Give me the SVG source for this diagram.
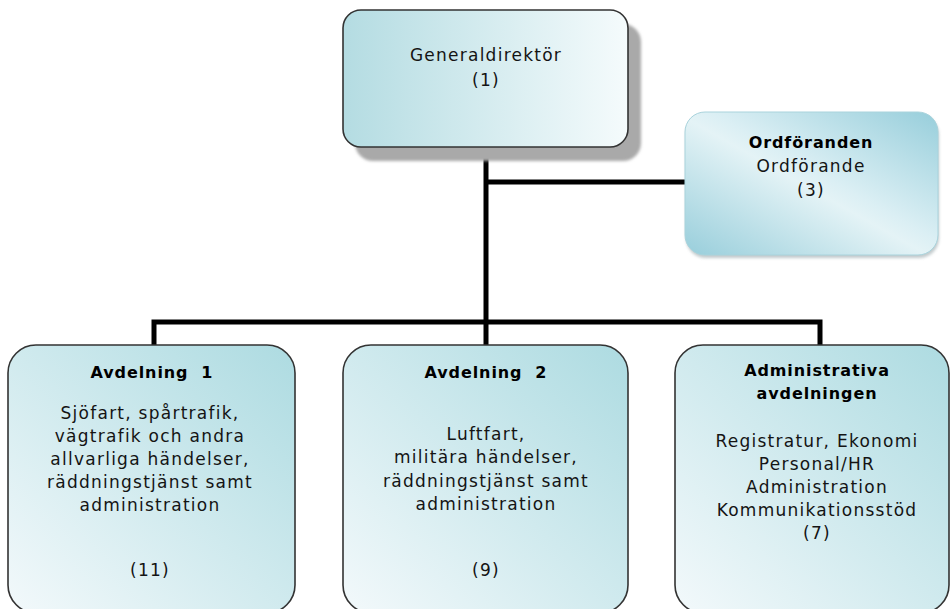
<svg xmlns="http://www.w3.org/2000/svg" width="951" height="609" viewBox="0 0 951 609">
  <style>
    .t { font-family: "DejaVu Sans", "Liberation Sans", sans-serif; font-size: 17px; letter-spacing: 1.25px; fill: #141414; text-anchor: middle; }
    .b { font-family: "DejaVu Sans", "Liberation Sans", sans-serif; font-size: 16px; font-weight: bold; letter-spacing: 0.9px; fill: #000; text-anchor: middle; }
    .box { stroke: #333; stroke-width: 1.6; }
    .conn { fill: none; stroke: #000; stroke-width: 5; stroke-linejoin: miter; stroke-linecap: butt; }
  </style>
  <defs>
    <linearGradient id="gTop" x1="0" y1="0" x2="1" y2="0">
      <stop offset="0" stop-color="#b4dce2"/>
      <stop offset="1" stop-color="#f5fbfc"/>
    </linearGradient>
    <linearGradient id="gBot" x1="0" y1="1" x2="1" y2="0">
      <stop offset="0" stop-color="#f3f9fb"/>
      <stop offset="1" stop-color="#addbe1"/>
    </linearGradient>
    <linearGradient id="gOrd" x1="0" y1="1" x2="1" y2="0">
      <stop offset="0" stop-color="#98cedb"/>
      <stop offset="0.48" stop-color="#e4f3f6"/>
      <stop offset="0.55" stop-color="#dbeff4"/>
      <stop offset="1" stop-color="#97cedb"/>
    </linearGradient>
    <filter id="blur" x="-10%" y="-10%" width="120%" height="120%">
      <feGaussianBlur stdDeviation="1.5"/>
    </filter>
  </defs>

  <g id="connectors">
    <path class="conn" d="M486,147 V345"/>
    <path class="conn" d="M486,182 H686"/>
    <path class="conn" d="M154,346 V322 H820 V346"/>
  </g>

  <g id="generaldirektor">
    <rect x="355" y="24" width="286" height="137" rx="18" fill="#a9a9a9" filter="url(#blur)"/>
    <rect class="box" x="343" y="10" width="285" height="137" rx="18" fill="url(#gTop)"/>
    <text class="t" x="486" y="61">Generaldirektör</text>
    <text class="t" x="486" y="86">(1)</text>
  </g>

  <g id="ordforanden">
    <rect x="686" y="115" width="253" height="143" rx="20" fill="#9aa7ab" opacity="0.6" filter="url(#blur)"/>
    <rect x="685" y="112" width="253" height="143" rx="20" fill="url(#gOrd)" stroke="#a9d3dc" stroke-width="1"/>
    <text class="b" x="811" y="148">Ordföranden</text>
    <text class="t" x="811" y="172">Ordförande</text>
    <text class="t" x="811" y="196">(3)</text>
  </g>

  <g id="avdelning1">
    <rect class="box" x="8" y="345" width="287" height="268" rx="28" fill="url(#gBot)"/>
    <text class="b" x="152" y="378">Avdelning&#160; 1</text>
    <text class="t" x="150" y="419">Sjöfart, spårtrafik,</text>
    <text class="t" x="150" y="442">vägtrafik och andra</text>
    <text class="t" x="150" y="465">allvarliga händelser,</text>
    <text class="t" x="150" y="488">räddningstjänst samt</text>
    <text class="t" x="150" y="511">administration</text>
    <text class="t" x="150" y="576">(11)</text>
  </g>

  <g id="avdelning2">
    <rect class="box" x="343" y="345" width="285" height="268" rx="28" fill="url(#gBot)"/>
    <text class="b" x="486" y="378">Avdelning&#160; 2</text>
    <text class="t" x="486" y="440">Luftfart,</text>
    <text class="t" x="486" y="463">militära händelser,</text>
    <text class="t" x="486" y="487">räddningstjänst samt</text>
    <text class="t" x="486" y="510">administration</text>
    <text class="t" x="486" y="576">(9)</text>
  </g>

  <g id="administrativa">
    <rect class="box" x="675" y="345" width="274" height="268" rx="28" fill="url(#gBot)"/>
    <text class="b" x="817" y="376">Administrativa</text>
    <text class="b" x="817" y="399">avdelningen</text>
    <text class="t" x="817" y="447">Registratur, Ekonomi</text>
    <text class="t" x="817" y="470">Personal/HR</text>
    <text class="t" x="817" y="493">Administration</text>
    <text class="t" x="817" y="516">Kommunikationsstöd</text>
    <text class="t" x="817" y="539">(7)</text>
  </g>
</svg>
